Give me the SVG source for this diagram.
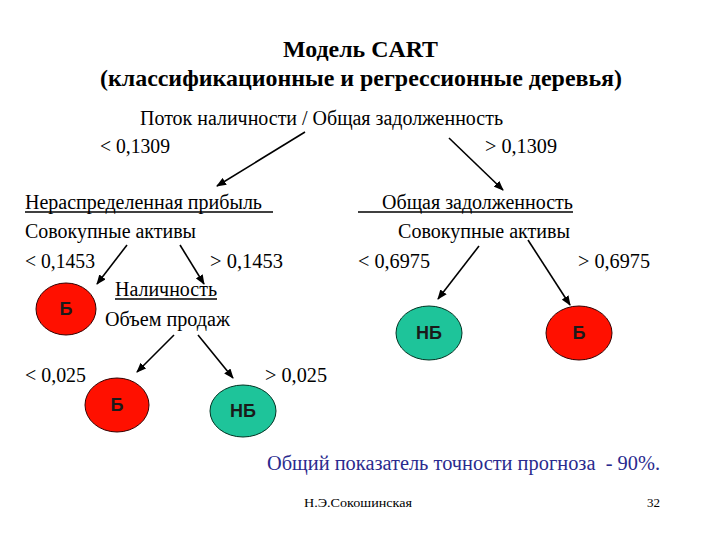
<svg xmlns="http://www.w3.org/2000/svg" width="720" height="540" viewBox="0 0 720 540">
<style>
.t{font-family:"Liberation Serif","DejaVu Serif",serif;font-size:20px;fill:#000}
.ti{font-family:"Liberation Serif","DejaVu Serif",serif;font-size:24px;font-weight:bold;fill:#000}
.lb{font-family:"Liberation Sans","DejaVu Sans",sans-serif;font-size:18px;font-weight:bold;fill:#1a1a1a}
.b{fill:#FF1000;stroke:#300;stroke-width:1}
.nb{fill:#1EC49A;stroke:#032;stroke-width:1}
.c line{stroke:#000;stroke-width:1.6;marker-end:url(#ah)}
.ul{stroke:#000;stroke-width:1.3}
.f{font-family:"Liberation Serif","DejaVu Serif",serif;font-size:13px;fill:#000}
</style>
<defs>
<marker id="ah" markerWidth="10" markerHeight="8" refX="9" refY="4" orient="auto" markerUnits="userSpaceOnUse">
<path d="M0,0 L10,4 L0,8 z" fill="#000"/>
</marker>
</defs>
<rect width="720" height="540" fill="#fff"/>
<text class="ti" x="283" y="57" textLength="155" lengthAdjust="spacingAndGlyphs">Модель CART</text>
<text class="ti" x="100" y="86" textLength="522" lengthAdjust="spacingAndGlyphs">(классификационные и регрессионные деревья)</text>

<g id="root"><text class="t" x="140" y="125" textLength="363" lengthAdjust="spacingAndGlyphs">Поток наличности / Общая задолженность</text></g>
<text class="t" x="100" y="153" textLength="70" lengthAdjust="spacingAndGlyphs">&lt; 0,1309</text>
<text class="t" x="485" y="153" textLength="72" lengthAdjust="spacingAndGlyphs">&gt; 0,1309</text>

<g id="n-left">
<text class="t" x="25" y="209" textLength="237" lengthAdjust="spacingAndGlyphs">Нераспределенная прибыль</text>
<line class="ul" x1="25" y1="212" x2="273" y2="212"/>
<text class="t" x="25" y="238" textLength="171" lengthAdjust="spacingAndGlyphs">Совокупные активы</text>
</g>
<text class="t" x="25" y="268" textLength="70" lengthAdjust="spacingAndGlyphs">&lt; 0,1453</text>
<text class="t" x="210" y="268" textLength="73" lengthAdjust="spacingAndGlyphs">&gt; 0,1453</text>

<g id="n-right">
<text class="t" x="382" y="209" textLength="191" lengthAdjust="spacingAndGlyphs">Общая задолженность</text>
<line class="ul" x1="358" y1="212" x2="573" y2="212"/>
<text class="t" x="398" y="238" textLength="172" lengthAdjust="spacingAndGlyphs">Совокупные активы</text>
</g>
<text class="t" x="358" y="268" textLength="72" lengthAdjust="spacingAndGlyphs">&lt; 0,6975</text>
<text class="t" x="578" y="268" textLength="72" lengthAdjust="spacingAndGlyphs">&gt; 0,6975</text>

<g id="n-cash">
<text class="t" x="115" y="296" textLength="102" lengthAdjust="spacingAndGlyphs">Наличность</text>
<line class="ul" x1="115" y1="299" x2="217" y2="299"/>
<text class="t" x="105" y="326" textLength="125" lengthAdjust="spacingAndGlyphs">Объем продаж</text>
</g>
<text class="t" x="25" y="382" textLength="61" lengthAdjust="spacingAndGlyphs">&lt; 0,025</text>
<text class="t" x="265" y="382" textLength="62" lengthAdjust="spacingAndGlyphs">&gt; 0,025</text>

<g id="leaf1"><ellipse class="b" cx="66" cy="309" rx="30" ry="26"/><text class="lb" x="66" y="315" text-anchor="middle">Б</text></g>
<g id="leaf2"><ellipse class="nb" cx="429" cy="333" rx="33" ry="27"/><text class="lb" x="429" y="339" text-anchor="middle">НБ</text></g>
<g id="leaf3"><ellipse class="b" cx="579" cy="333" rx="33" ry="27"/><text class="lb" x="579" y="339" text-anchor="middle">Б</text></g>
<g id="leaf4"><ellipse class="b" cx="117" cy="405" rx="32" ry="27"/><text class="lb" x="117" y="411" text-anchor="middle">Б</text></g>
<g id="leaf5"><ellipse class="nb" cx="243" cy="411" rx="33" ry="26"/><text class="lb" x="243" y="417" text-anchor="middle">НБ</text></g>

<g class="c" id="connectors">
<line x1="305" y1="132" x2="217" y2="186"/>
<line x1="449" y1="138" x2="503" y2="190"/>
<line x1="127" y1="245" x2="97" y2="284"/>
<line x1="180" y1="245" x2="204" y2="284"/>
<line x1="479" y1="246" x2="438" y2="299"/>
<line x1="528" y1="240" x2="570" y2="305"/>
<line x1="174" y1="335" x2="137" y2="372"/>
<line x1="198" y1="335" x2="233" y2="378"/>
</g>

<text class="t" x="267" y="470" style="fill:#2A2A8E" xml:space="preserve" textLength="393" lengthAdjust="spacingAndGlyphs">Общий показатель точности прогноза  - 90%.</text>
<text class="f" x="304" y="507" textLength="108" lengthAdjust="spacingAndGlyphs">Н.Э.Сокошинская</text>
<text class="f" x="660" y="507" text-anchor="end">32</text>
</svg>
